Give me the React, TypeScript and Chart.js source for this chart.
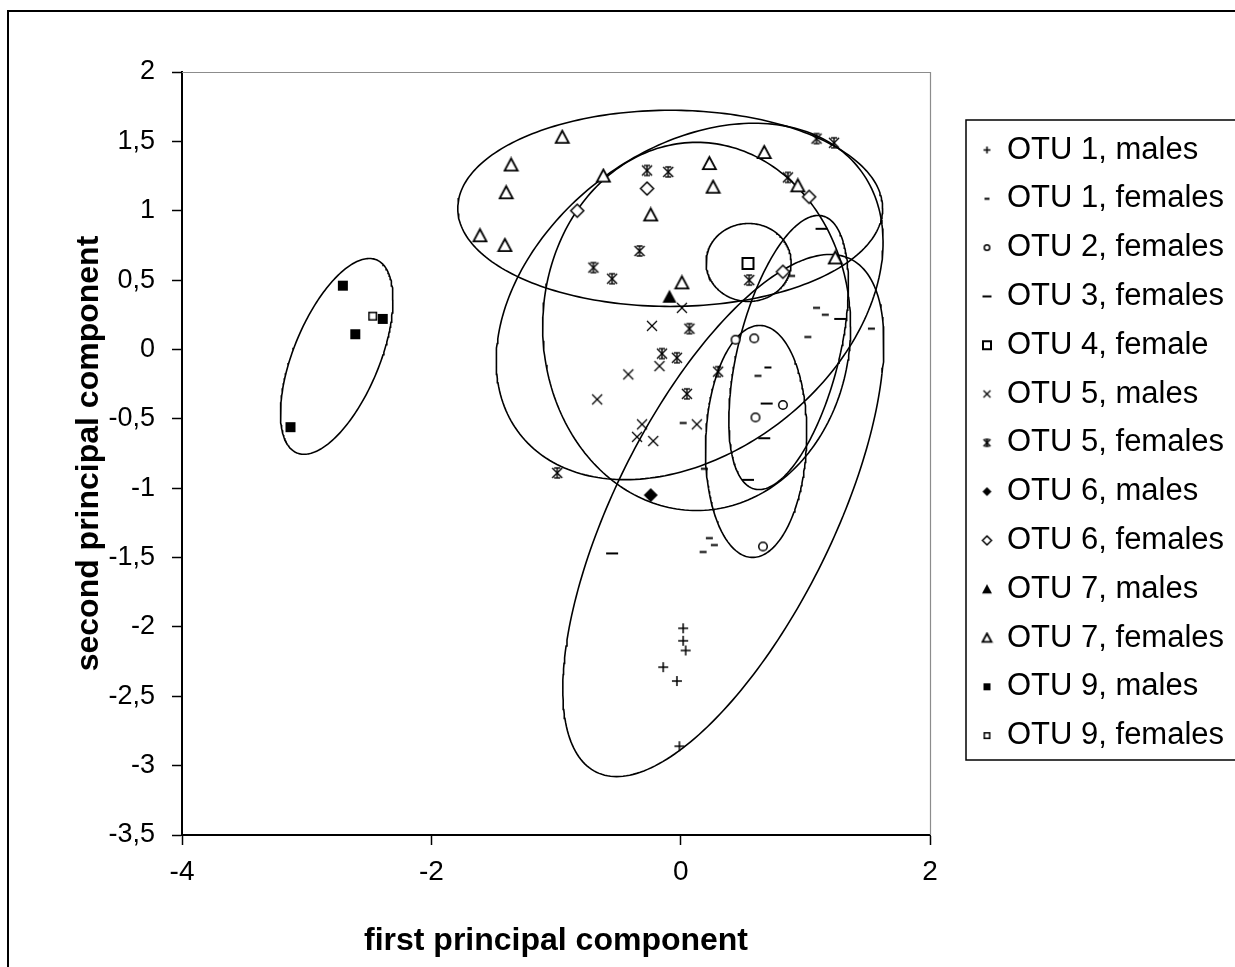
import React, { useEffect, useRef } from "react";
import { Chart, registerables } from "chart.js";

Chart.register(...registerables);

type Pt = [number, number];

// ---------- data ----------
const SERIES_NAMES = [
  "OTU 1, males",
  "OTU 1, females",
  "OTU 2, females",
  "OTU 3, females",
  "OTU 4, female",
  "OTU 5, males",
  "OTU 5, females",
  "OTU 6, males",
  "OTU 6, females",
  "OTU 7, males",
  "OTU 7, females",
  "OTU 9, males",
  "OTU 9, females",
];

const OTU1_MALES: Pt[] = [[0.02, -2.01], [0.02, -2.1], [0.04, -2.17], [-0.14, -2.29], [-0.03, -2.39], [-0.01, -2.86]];
const OTU1_FEMALES: Pt[] = [[1.09, 0.3], [1.16, 0.25], [1.53, 0.15], [1.02, 0.09], [0.89, 0.53], [0.7, -0.13], [0.62, -0.19], [0.02, -0.53], [0.19, -0.86], [0.23, -1.36], [0.27, -1.41], [0.18, -1.46]];
const OTU2_FEMALES: Pt[] = [[0.44, 0.07], [0.59, 0.08], [0.82, -0.4], [0.6, -0.49], [0.66, -1.42]];
const OTU3_FEMALES: Pt[] = [[1.13, 0.87], [0.69, -0.39], [0.67, -0.64], [0.54, -0.94], [1.28, 0.22], [-0.55, -1.47]];
const OTU4_FEMALE: Pt[] = [[0.54, 0.62]];
const OTU5_MALES: Pt[] = [[-0.23, 0.17], [-0.17, -0.12], [-0.42, -0.18], [-0.67, -0.36], [-0.31, -0.54], [-0.35, -0.63], [-0.22, -0.66], [0.13, -0.54], [0.01, 0.3]];
const OTU5_FEMALES: Pt[] = [[-0.27, 1.29], [-0.1, 1.28], [-0.33, 0.71], [-0.7, 0.59], [-0.55, 0.51], [0.55, 0.5], [0.86, 1.24], [1.09, 1.52], [1.23, 1.49], [0.07, 0.15], [-0.15, -0.03], [-0.03, -0.06], [0.3, -0.16], [0.05, -0.32], [-0.99, -0.89]];
const OTU6_MALES: Pt[] = [[-0.24, -1.05]];
const OTU6_FEMALES: Pt[] = [[-0.83, 1.0], [-0.27, 1.16], [1.03, 1.1], [0.82, 0.56]];
const OTU7_MALES: Pt[] = [[-0.09, 0.38]];
const OTU7_FEMALES: Pt[] = [[-0.95, 1.53], [-1.36, 1.33], [-1.4, 1.13], [-1.61, 0.82], [-1.41, 0.75], [-0.62, 1.25], [-0.24, 0.97], [0.23, 1.34], [0.26, 1.17], [0.67, 1.42], [0.94, 1.18], [1.24, 0.66], [0.01, 0.48]];
const OTU9_MALES: Pt[] = [[-2.71, 0.46], [-2.61, 0.11], [-2.39, 0.22], [-3.13, -0.56]];
const OTU9_FEMALES: Pt[] = [[-2.47, 0.24]];

const SERIES_DATA: Pt[][] = [
  OTU1_MALES, OTU1_FEMALES, OTU2_FEMALES, OTU3_FEMALES, OTU4_FEMALE, OTU5_MALES,
  OTU5_FEMALES, OTU6_MALES, OTU6_FEMALES, OTU7_MALES, OTU7_FEMALES, OTU9_MALES, OTU9_FEMALES,
];

// group ellipses (center, two conjugate semi-axes, in data units)
const ELLIPSE_NAMES = ["OTU 1", "OTU 2", "OTU 3", "OTU 4", "OTU 5", "OTU 6", "OTU 7", "OTU 9"];
const ELLIPSE_CENTERS: Pt[] = [[0.342, -1.197], [0.605, -0.663], [0.866, -0.022], [0.545, 0.627], [0.072, 0.346], [0.128, 0.166], [-0.084, 1.017], [-2.759, -0.05]];
const ELLIPSE_AXIS_A: Pt[] = [[0.962, 0], [0.405, 0], [0.417, 0], [0.341, 0], [1.361, 0.957], [1.235, 0], [1.704, 0], [0.451, 0.409]];
const ELLIPSE_AXIS_B: Pt[] = [[-0.856, -1.882], [0.028, 0.836], [0.237, 0.988], [0, 0.281], [0.745, -0.857], [0, 1.327], [0, 0.707], [0, 0.575]];

const X_TICKS = [-4, -2, 0, 2];
const Y_TICKS = [2, 1.5, 1, 0.5, 0, -0.5, -1, -1.5, -2, -2.5, -3, -3.5];

// ---------- styles ----------
const FONT = "'Liberation Sans', Arial, Helvetica, sans-serif";
const MARKER_KINDS = [
  "plus", "dash", "circle", "dashLong", "square", "cross", "star",
  "diamondFilled", "diamond", "triangleFilled", "triangle", "squareFilled", "squareSmall",
];
const PLOT_SIZES = [10, 7, 10, 12, 13, 10, 10, 14, 13, 14, 13, 10, 9];
const LEGEND_SIZES = [7, 5, 7, 9, 10, 7, 7, 9, 9, 10, 9, 7, 7];

function makeMarker(kind: string, s: number): HTMLCanvasElement {
  const size = Math.ceil(s) + 4;
  const c = document.createElement("canvas");
  c.width = size;
  c.height = size;
  const g = c.getContext("2d") as CanvasRenderingContext2D;
  const m = size / 2;
  const h = s / 2;
  g.strokeStyle = "#000";
  g.fillStyle = "#000";
  g.lineWidth = 1.5;
  const line = (x1: number, y1: number, x2: number, y2: number) => {
    g.beginPath();
    g.moveTo(x1, y1);
    g.lineTo(x2, y2);
    g.stroke();
  };
  switch (kind) {
    case "plus":
      line(m - h, m, m + h, m);
      line(m, m - h, m, m + h);
      break;
    case "dash":
    case "dashLong":
      g.fillRect(m - h, m - 1, s, 2);
      break;
    case "circle":
      g.beginPath();
      g.arc(m, m, h - 0.75, 0, Math.PI * 2);
      g.fillStyle = "#fff";
      g.fill();
      g.stroke();
      break;
    case "square":
    case "squareSmall":
      g.fillStyle = "#fff";
      g.fillRect(m - h, m - h, s, s);
      g.lineWidth = kind === "square" ? 2 : 1.5;
      g.strokeRect(m - h + g.lineWidth / 2, m - h + g.lineWidth / 2, s - g.lineWidth, s - g.lineWidth);
      break;
    case "squareFilled":
      g.fillRect(m - h, m - h, s, s);
      break;
    case "cross":
      g.lineWidth = 1.3;
      line(m - h, m - h, m + h, m + h);
      line(m - h, m + h, m + h, m - h);
      break;
    case "star":
      g.lineWidth = 1.4;
      line(m - h, m - h, m + h, m + h);
      line(m - h, m + h, m + h, m - h);
      line(m, m - h, m, m + h);
      line(m - h * 0.6, m - h, m + h * 0.6, m - h);
      line(m - h * 0.6, m + h, m + h * 0.6, m + h);
      break;
    case "diamondFilled":
    case "diamond":
      g.beginPath();
      g.moveTo(m, m - h);
      g.lineTo(m + h, m);
      g.lineTo(m, m + h);
      g.lineTo(m - h, m);
      g.closePath();
      if (kind === "diamondFilled") g.fill();
      else {
        g.fillStyle = "#fff";
        g.fill();
        g.stroke();
      }
      break;
    case "triangleFilled":
    case "triangle":
      g.beginPath();
      g.moveTo(m, m - h);
      g.lineTo(m + h, m + h * 0.85);
      g.lineTo(m - h, m + h * 0.85);
      g.closePath();
      if (kind === "triangleFilled") g.fill();
      else {
        g.fillStyle = "#fff";
        g.fill();
        g.lineWidth = 1.8;
        g.stroke();
      }
      break;
  }
  return c;
}

function ellipseOutline(c: Pt, a: Pt, b: Pt, n = 240) {
  const pts: { x: number; y: number }[] = [];
  for (let i = 0; i <= n; i++) {
    const t = (2 * Math.PI * i) / n;
    pts.push({
      x: c[0] + a[0] * Math.cos(t) + b[0] * Math.sin(t),
      y: c[1] + a[1] * Math.cos(t) + b[1] * Math.sin(t),
    });
  }
  return pts;
}

const fmt = (v: number) => String(v).replace(".", ",");

export default function App() {
  const ref = useRef<HTMLCanvasElement>(null);

  useEffect(() => {
    const canvas = ref.current as HTMLCanvasElement;
    const plotMarkers = MARKER_KINDS.map((k, i) => makeMarker(k, PLOT_SIZES[i]));
    const legendMarkers = MARKER_KINDS.map((k, i) => makeMarker(k, LEGEND_SIZES[i]));

    const pointSets = SERIES_NAMES.map((name, i) => ({
      label: name,
      data: SERIES_DATA[i].map(([x, y]) => ({ x, y })),
      pointStyle: plotMarkers[i],
      pointRadius: 7,
      pointHoverRadius: 7,
      showLine: false,
      order: 0,
    }));

    const ellipseSets = ELLIPSE_NAMES.map((name, i) => ({
      label: name + " ellipse",
      data: ellipseOutline(ELLIPSE_CENTERS[i], ELLIPSE_AXIS_A[i], ELLIPSE_AXIS_B[i]),
      showLine: true,
      borderColor: "#000",
      borderWidth: 1.6,
      pointRadius: 0,
      pointHoverRadius: 0,
      tension: 0,
      fill: false,
      order: 1,
    }));

    const LEGEND_FONT = 31;
    const LEGEND_PAD = 48.8 - LEGEND_FONT;

    const decor = {
      id: "decor",
      afterLayout(chart: any) {
        const lg = chart.legend;
        if (!lg) return;
        lg.left = 964.7;
        lg.right = 1260;
        lg.width = lg.right - lg.left;
        lg.top = 100;
        lg.bottom = 785.6;
        lg.height = lg.bottom - lg.top;
      },
      beforeDraw(chart: any) {
        const ctx = chart.ctx;
        ctx.save();
        ctx.fillStyle = "#fff";
        ctx.fillRect(0, 0, chart.width, chart.height);
        ctx.strokeStyle = "#000";
        ctx.lineWidth = 2;
        ctx.strokeRect(8, 11, 1400, 1100);
        ctx.restore();
      },
      beforeDatasetsDraw(chart: any) {
        const { ctx, chartArea } = chart;
        const { left, top, right, bottom } = chartArea;
        ctx.save();
        ctx.strokeStyle = "#8c8c8c";
        ctx.lineWidth = 1.2;
        ctx.beginPath();
        ctx.moveTo(left, top + 0.5);
        ctx.lineTo(right + 0.5, top + 0.5);
        ctx.lineTo(right + 0.5, bottom);
        ctx.stroke();
        ctx.restore();
      },
      afterDraw(chart: any) {
        const ctx = chart.ctx;
        ctx.save();
        ctx.strokeStyle = "#000";
        ctx.lineWidth = 1.5;
        ctx.strokeRect(966, 120, 400, 640);
        ctx.restore();
      },
    };

    const chart = new Chart(canvas, {
      type: "scatter",
      data: { datasets: [...pointSets, ...ellipseSets] as any },
      options: {
        responsive: false,
        animation: false,
        events: [],
        layout: { padding: { left: 0, top: 72, right: 130, bottom: 0 } },
        plugins: {
          tooltip: { enabled: false },
          legend: {
            position: "right",
            maxWidth: 200,
            labels: {
              usePointStyle: true,
              boxWidth: 9,
              boxHeight: 9,
              padding: LEGEND_PAD,
              color: "#000",
              font: { family: FONT, size: LEGEND_FONT },
              generateLabels: () =>
                SERIES_NAMES.map((name, i) => ({
                  text: name,
                  datasetIndex: i,
                  pointStyle: legendMarkers[i],
                  fillStyle: "#000",
                  strokeStyle: "#000",
                  lineWidth: 0,
                  hidden: false,
                  fontColor: "#000",
                })),
            },
          },
        },
        scales: {
          x: {
            type: "linear",
            position: "bottom",
            min: -4,
            max: 2,
            afterBuildTicks: (s: any) => {
              s.ticks = X_TICKS.map((v) => ({ value: v }));
            },
            afterFit: (s: any) => {
              s.height = 132;
            },
            ticks: {
              color: "#000",
              font: { family: FONT, size: 28 },
              padding: 10,
              maxRotation: 0,
              callback: (v: any) => fmt(Number(v)),
            },
            grid: {
              display: true,
              drawOnChartArea: false,
              drawTicks: true,
              tickLength: 10,
              tickColor: "#000",
              tickWidth: 1.5,
              color: "#000",
            },
            border: { display: true, color: "#000", width: 2 },
            title: {
              display: true,
              text: "first principal component",
              color: "#000",
              font: { family: FONT, size: 32, weight: "bold" },
              padding: { top: 0, bottom: 7 },
            },
          },
          y: {
            type: "linear",
            position: "left",
            min: -3.5,
            max: 2,
            afterBuildTicks: (s: any) => {
              s.ticks = Y_TICKS.map((v) => ({ value: v }));
            },
            afterFit: (s: any) => {
              s.width = 182;
            },
            ticks: {
              color: "#000",
              font: { family: FONT, size: 27 },
              padding: 17,
              callback: (v: any) => fmt(Number(v)),
            },
            grid: {
              display: true,
              drawOnChartArea: false,
              drawTicks: true,
              tickLength: 10,
              tickColor: "#000",
              tickWidth: 1.5,
              color: "#000",
            },
            border: { display: true, color: "#000", width: 2 },
            title: {
              display: true,
              text: "second principal component",
              color: "#000",
              font: { family: FONT, size: 32, weight: "bold" },
              padding: { top: 70, bottom: 0 },
            },
          },
        },
      } as any,
      plugins: [decor as any],
    });

    return () => chart.destroy();
  }, []);

  return (
    <div
      style={{
        position: "absolute",
        left: 0,
        top: 0,
        width: 1235,
        height: 967,
        overflow: "hidden",
        background: "#fff",
      }}
    >
      <canvas ref={ref} width={1260} height={967} style={{ display: "block", width: 1260, height: 967 }} />
    </div>
  );
}
